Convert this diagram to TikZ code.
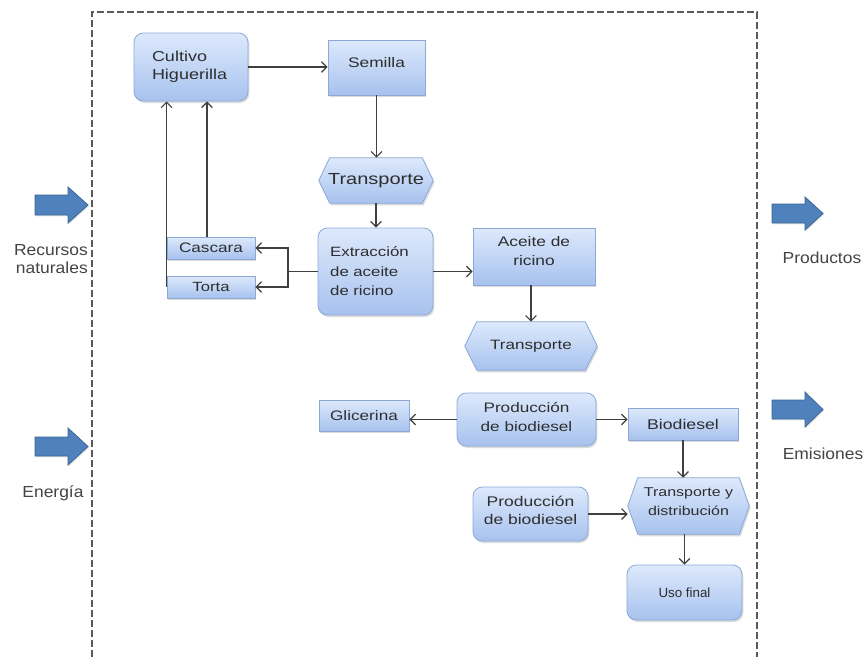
\documentclass[tikz,border=0pt]{standalone}
\usepackage{fontspec}
\setmainfont{Liberation Sans}[FakeStretch=1.25]
\newfontfamily\sidefont{Liberation Sans}[FakeStretch=1.09]
\newfontfamily\usofont{Liberation Sans}
\usetikzlibrary{arrows.meta,shadows,calc}
\pgfdeclarelayer{bottom}
\pgfdeclarelayer{background}
\pgfsetlayers{bottom,background,main}
\definecolor{boxtop}{HTML}{DDE9FC}
\definecolor{boxbot}{HTML}{A7C2EE}
\definecolor{boxline}{HTML}{8CA8D6}
\definecolor{barrow}{HTML}{4F81BD}
\definecolor{barrowline}{HTML}{3B6596}
\definecolor{lin}{HTML}{404040}
\definecolor{txt}{HTML}{2E2E2E}
\definecolor{sidetxt}{HTML}{444444}
\definecolor{dashc}{HTML}{5A5A5A}
\tikzset{
  fillstyle/.style={draw=boxline, line width=0.6pt, top color=boxtop, bottom color=boxbot,
    drop shadow={shadow xshift=1pt, shadow yshift=-1.5pt, opacity=0.28}},
  sbox/.style={fillstyle, text=txt, inner sep=1pt},
  rbox/.style={sbox, rounded corners=7pt},
  hexnode/.style={inner sep=0pt, text=txt},
  conn/.style={draw=lin, line width=0.9pt, -{Straight Barb[length=4pt,width=8pt]}},
  plainline/.style={draw=lin, line width=0.9pt},
  blockarrow/.style={fill=barrow, draw=barrowline, line width=0.6pt,
    drop shadow={shadow xshift=0.8pt, shadow yshift=-1pt, opacity=0.2}},
  sidelabel/.style={text=sidetxt, font=\sidefont\fontsize{12}{13.5}\selectfont, inner sep=0pt},
  dashbox/.style={draw=dashc, line width=1.1pt, dash pattern=on 5pt off 2.5pt},
  fs/.style={font=\fontsize{#1}{14}\selectfont}
}
\newcommand\hexpath[2]{% node name, depth
  \begin{pgfonlayer}{background}
  \path[fillstyle] (#1.west) -- ($(#1.north west)+(#2,0)$) -- ($(#1.north east)+(-#2,0)$)
    -- (#1.east) -- ($(#1.south east)+(-#2,0)$) -- ($(#1.south west)+(#2,0)$) -- cycle;
  \end{pgfonlayer}}
\begin{document}
\begin{tikzpicture}[x=0.75pt,y=-0.75pt]
\begin{pgfonlayer}{bottom}
\fill[white] (0,0) rectangle (867,657);
\end{pgfonlayer}
\useasboundingbox (0,0) rectangle (867,657);

% dashed system boundary
\draw[dashbox] (92,657) -- (92,12) -- (757,12) -- (757,657);

% nodes
\node[rbox, minimum width=85.5pt, minimum height=51pt, text width=58.5pt, align=left,
  font=\fontsize{10.8}{13.7}\selectfont] (cult) at (191,67) {Cultivo\\Higuerilla};
\node[sbox, minimum width=72.75pt, minimum height=41.25pt, fs=10.4, text depth=8.2pt] (sem) at (376.5,67.5) {Semilla};
\node[hexnode, minimum width=85.5pt, minimum height=33.75pt, fs=12] (t1) at (376,180.5) {Transporte};
\hexpath{t1}{8.25pt}
\node[rbox, minimum width=86.25pt, minimum height=65.25pt, text width=68pt, align=left,
  font=\fontsize{10.1}{14.6}\selectfont] (ext) at (375.5,271.5) {Extracción\\de aceite\\de ricino};
\node[sbox, minimum width=91.5pt, minimum height=42.75pt, align=center, text depth=8.2pt,
  font=\fontsize{10.4}{14}\selectfont] (ace) at (534,256.5) {Aceite de\\ricino};
\node[hexnode, minimum width=99pt, minimum height=36pt, fs=10.2] (t2) at (531,346) {Transporte};
\hexpath{t2}{9pt}
\node[sbox, minimum width=66pt, minimum height=16.5pt, fs=10.3] (casc) at (211,248) {Cascara};
\node[sbox, minimum width=66pt, minimum height=16.5pt, fs=10] (torta) at (211,287) {Torta};
\node[sbox, minimum width=67.5pt, minimum height=23.25pt, fs=10.3] (gli) at (364,415.5) {Glicerina};
\node[rbox, minimum width=104.25pt, minimum height=39.75pt, align=center, text depth=4pt,
  font=\fontsize{10.3}{13.7}\selectfont] (p1) at (526.5,419.5) {Producción\\de biodiesel};
\node[sbox, minimum width=82.5pt, minimum height=24pt, fs=10.6] (bio) at (683,424) {Biodiesel};
\node[hexnode, minimum width=90.75pt, minimum height=42pt, align=center, text depth=6pt,
  font=\fontsize{9.6}{14.3}\selectfont] (tyd) at (688.5,506) {Transporte y\\distribución};
\hexpath{tyd}{7.5pt}
\node[rbox, minimum width=86.25pt, minimum height=40.5pt, align=center, text depth=6pt,
  font=\fontsize{10.5}{13.7}\selectfont] (p2) at (530.5,514) {Producción\\de biodiesel};
\node[rbox, minimum width=86.25pt, minimum height=41.25pt,
  font=\usofont\fontsize{10}{12}\selectfont] (uso) at (684.5,592.5) {Uso final};

% connectors
\draw[conn] (cult.east) -- (cult.east -| sem.west);
\draw[conn] (sem.south) -- (sem.south |- t1.north);
\draw[conn] (t1.south) -- (t1.south |- ext.north);
\draw[conn] (ext.east) -- (ext.east -| ace.west);
\draw[conn] (ace.south -| t2.north) -- (t2.north);
\coordinate (jn) at (288,271.5);
\draw[plainline] (ext.west) -- (ext.west -| jn);
\draw[conn] (ext.west -| jn) |- (casc.east);
\draw[conn] (ext.west -| jn) |- (torta.east);
\coordinate (cx) at (207,0);
\draw[conn] (casc.north -| cx) -- (cult.south -| cx);
\draw[conn] (torta.west) -- (torta.west |- cult.south);
\draw[conn] (p1.west) -- (p1.west -| gli.east);
\draw[conn] (p1.east) -- (p1.east -| bio.west);
\draw[conn] (bio.south) -- (bio.south |- tyd.north);
\draw[conn] (p2.east) -- (p2.east -| tyd.west);
\draw[conn] (uso.north |- tyd.south) -- (uso.north);

% block arrows
\path[blockarrow] (35,195) -- (68,195) -- (68,187) -- (88,205) -- (68,223) -- (68,215) -- (35,215) -- cycle;
\path[blockarrow] (35,437) -- (68,437) -- (68,428) -- (88,446.5) -- (68,465) -- (68,456) -- (35,456) -- cycle;
\path[blockarrow] (772,204) -- (805,204) -- (805,197) -- (823,213.5) -- (805,230) -- (805,223) -- (772,223) -- cycle;
\path[blockarrow] (772,400) -- (805,400) -- (805,392) -- (823,409.5) -- (805,427) -- (805,419) -- (772,419) -- cycle;

% side labels
\node[sidelabel, anchor=east, align=right] (rec) at (88,259.5) {Recursos\\naturales};
\node[sidelabel, anchor=base] (ene) at (53,497) {Energía};
\node[sidelabel, anchor=base] (pro) at (822,263) {Productos};
\node[sidelabel, anchor=base] (emi) at (823,459) {Emisiones};
\end{tikzpicture}
\end{document}
